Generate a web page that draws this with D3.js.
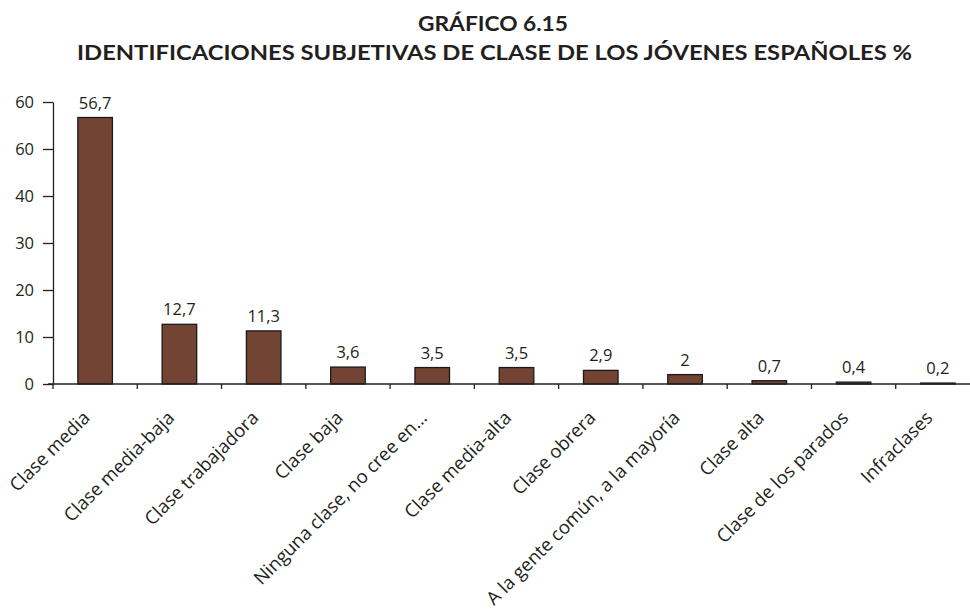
<!DOCTYPE html>
<html>
<head>
<meta charset="utf-8">
<script src="https://cdn.jsdelivr.net/npm/d3@7"></script>
<style>
  html, body { margin: 0; padding: 0; background: #fff; }
  svg { display: block; }
</style>
</head>
<body>
<svg id="chart" width="970" height="611"></svg>
<script>
// Categories and percentages
const categories = [
  "Clase media",
  "Clase media-baja",
  "Clase trabajadora",
  "Clase baja",
  "Ninguna clase, no cree en…",
  "Clase media-alta",
  "Clase obrera",
  "A la gente común, a la mayoría",
  "Clase alta",
  "Clase de los parados",
  "Infraclases"
];
const values = [56.7, 12.7, 11.3, 3.6, 3.5, 3.5, 2.9, 2, 0.7, 0.4, 0.2];
const valueLabels = ["56,7", "12,7", "11,3", "3,6", "3,5", "3,5", "2,9", "2", "0,7", "0,4", "0,2"];

// Y axis ticks and their printed labels
const yTicks = [0, 10, 20, 30, 40, 50, 60];
const yTickLabels = ["0", "10", "20", "30", "40", "60", "60"];

const titleLine1 = "GRÁFICO 6.15";
const titleLine2 = "IDENTIFICACIONES SUBJETIVAS DE CLASE DE LOS JÓVENES ESPAÑOLES %";

const svg = d3.select("#chart");
const textColor = "#231f20";
const barFill = "#734434";
const baseFont = "'Open Sans', sans-serif";

const plotLeft = 53, plotRight = 980, plotTop = 102, plotBottom = 384;

const x = d3.scaleBand()
  .domain(categories)
  .range([plotLeft, plotRight])
  .paddingInner(0.59)
  .paddingOuter(0.295);

const y = d3.scaleLinear()
  .domain([0, 60])
  .range([plotBottom, plotTop]);

// Title
svg.append("text")
  .attr("x", 493).attr("y", 31)
  .attr("text-anchor", "middle")
  .attr("font-family", "Lato, sans-serif")
  .attr("font-weight", 700)
  .attr("font-size", 21)
  .attr("fill", textColor)
  .attr("textLength", 150)
  .attr("lengthAdjust", "spacingAndGlyphs")
  .text(titleLine1);

svg.append("text")
  .attr("x", 494.5).attr("y", 60)
  .attr("text-anchor", "middle")
  .attr("font-family", "Lato, sans-serif")
  .attr("font-weight", 700)
  .attr("font-size", 21)
  .attr("fill", textColor)
  .attr("textLength", 835)
  .attr("lengthAdjust", "spacingAndGlyphs")
  .text(titleLine2);

// Y axis
const yAxis = d3.axisLeft(y)
  .tickValues(yTicks)
  .tickFormat((d, i) => yTickLabels[i])
  .tickSize(10)
  .tickPadding(9)
  .tickSizeOuter(0);

const gy = svg.append("g")
  .attr("transform", `translate(${plotLeft},0)`)
  .call(yAxis);
gy.select(".domain").attr("stroke", textColor).attr("stroke-width", 1.3);
gy.selectAll(".tick line").attr("stroke", textColor).attr("stroke-width", 1.3);
gy.selectAll(".tick text")
  .attr("font-family", baseFont)
  .attr("font-size", 16.5)
  .attr("fill", textColor);

// Bars
svg.append("g")
  .selectAll("rect")
  .data(values)
  .join("rect")
  .attr("x", (d, i) => x(categories[i]))
  .attr("y", d => y(d))
  .attr("width", x.bandwidth())
  .attr("height", d => y(0) - y(d))
  .attr("fill", barFill)
  .attr("stroke", "#1a1a1a")
  .attr("stroke-width", 1.3);

// Value labels
svg.append("g")
  .selectAll("text")
  .data(values)
  .join("text")
  .attr("x", (d, i) => x(categories[i]) + x.bandwidth() / 2)
  .attr("y", d => y(d) - 9)
  .attr("text-anchor", "middle")
  .attr("font-family", baseFont)
  .attr("font-size", 16.5)
  .attr("fill", textColor)
  .text((d, i) => valueLabels[i]);

// X axis with ticks at category boundaries
const boundaries = categories.map(c => x(c) - x.step() * x.paddingInner() / 2)
  .concat([plotRight]);
const gx = svg.append("g");
gx.append("line")
  .attr("x1", plotLeft - 5).attr("x2", plotRight)
  .attr("y1", plotBottom).attr("y2", plotBottom)
  .attr("stroke", textColor).attr("stroke-width", 1.3);
gx.selectAll("line.tick")
  .data(boundaries)
  .join("line")
  .attr("class", "tick")
  .attr("x1", d => d).attr("x2", d => d)
  .attr("y1", plotBottom).attr("y2", plotBottom + 5)
  .attr("stroke", textColor).attr("stroke-width", 1.3);

// Rotated category labels
gx.selectAll("text")
  .data(categories)
  .join("text")
  .attr("transform", d => `translate(${x(d) + x.bandwidth() / 2 - 4},419) rotate(-45)`)
  .attr("text-anchor", "end")
  .attr("font-family", baseFont)
  .attr("font-size", 18.5)
  .attr("fill", textColor)
  .text(d => d);
</script>
</body>
</html>
